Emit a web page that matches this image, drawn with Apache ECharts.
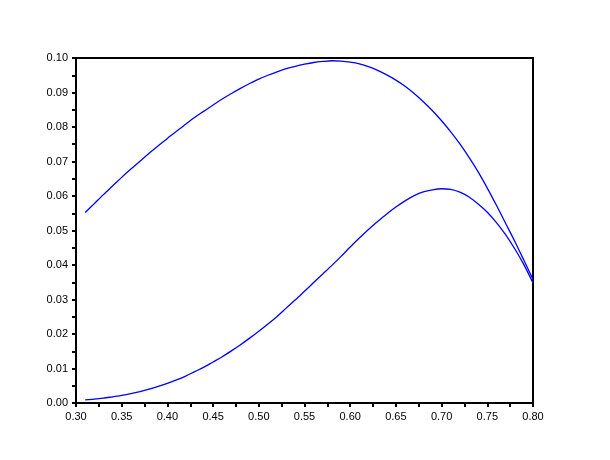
<!DOCTYPE html>
<html>
<head>
<meta charset="utf-8">
<script src="https://cdn.jsdelivr.net/npm/echarts@6/dist/echarts.min.js"></script>
<style>
  html, body { margin: 0; padding: 0; background: #fff; }
  #container { width: 610px; height: 460px; }
</style>
</head>
<body>
<div id="container"></div>
<script>
  var dom = document.getElementById("container");
  var myChart = echarts.init(dom);

  // x positions where both curves were read
  var xs = [0.31, 0.32, 0.33, 0.34, 0.35, 0.36, 0.37, 0.38, 0.39, 0.40,
            0.41, 0.42, 0.43, 0.44, 0.45, 0.46, 0.47, 0.48, 0.49, 0.50,
            0.51, 0.52, 0.53, 0.54, 0.55, 0.56, 0.57, 0.58, 0.59, 0.60,
            0.61, 0.62, 0.63, 0.64, 0.65, 0.66, 0.67, 0.68, 0.69, 0.70,
            0.71, 0.72, 0.73, 0.74, 0.75, 0.76, 0.77, 0.78, 0.79, 0.80];

  var yUpper = [0.0552, 0.0578, 0.0604, 0.0629, 0.0654, 0.0678, 0.0701, 0.0724, 0.0746, 0.0767,
                0.0788, 0.0808, 0.0828, 0.0846, 0.0864, 0.0881, 0.0897, 0.0912, 0.0926, 0.0939,
                0.0950, 0.0960, 0.0969, 0.0976, 0.0982, 0.0987, 0.0990, 0.0992, 0.0991, 0.0988,
                0.0983, 0.0975, 0.0964, 0.0951, 0.0936, 0.0918, 0.0897, 0.0873, 0.0847, 0.0818,
                0.0786, 0.0751, 0.0712, 0.0670, 0.0623, 0.0573, 0.0521, 0.0469, 0.0414, 0.0358];

  var yLower = [0.0009, 0.0011, 0.0014, 0.0018, 0.0022, 0.0027, 0.0033, 0.0040, 0.0048, 0.0057,
                0.0067, 0.0078, 0.0091, 0.0104, 0.0119, 0.0134, 0.0151, 0.0169, 0.0188, 0.0208,
                0.0229, 0.0251, 0.0275, 0.0299, 0.0324, 0.0349, 0.0374, 0.0399, 0.0425, 0.0452,
                0.0478, 0.0503, 0.0526, 0.0548, 0.0568, 0.0586, 0.0601, 0.0612, 0.0618, 0.0621,
                0.0619, 0.0611, 0.0597, 0.0577, 0.0553, 0.0523, 0.0488, 0.0447, 0.0401, 0.0348];

  function pairs(x, y) {
    return x.map(function (v, i) { return [v, y[i]]; });
  }

  var labelStyle = {
    color: '#000',
    fontFamily: 'Liberation Sans',
    fontSize: 11,
    margin: 8,
    formatter: function (v) { return v.toFixed(2); }
  };

  var option = {
    animation: false,
    grid: {
      left: 76, right: 77, top: 58, bottom: 57,
      show: true,
      borderColor: '#000',
      borderWidth: 2
    },
    xAxis: {
      type: 'value',
      min: 0.3, max: 0.8, interval: 0.05,
      axisLine: { show: true, onZero: false, lineStyle: { color: '#000', width: 2 } },
      axisTick: { show: true, length: 4, lineStyle: { color: '#000', width: 2 } },
      minorTick: { show: true, splitNumber: 2, length: 4, lineStyle: { color: '#000', width: 2 } },
      splitLine: { show: false },
      axisLabel: labelStyle
    },
    yAxis: {
      type: 'value',
      min: 0, max: 0.1, interval: 0.01,
      axisLine: { show: true, lineStyle: { color: '#000', width: 2 } },
      axisTick: { show: true, length: 4, lineStyle: { color: '#000', width: 2 } },
      minorTick: { show: true, splitNumber: 2, length: 4, lineStyle: { color: '#000', width: 2 } },
      splitLine: { show: false },
      axisLabel: labelStyle
    },
    series: [
      {
        type: 'line',
        data: pairs(xs, yUpper),
        smooth: 0.3,
        showSymbol: false,
        lineStyle: { color: '#0000ff', width: 1.3 }
      },
      {
        type: 'line',
        data: pairs(xs, yLower),
        smooth: 0.3,
        showSymbol: false,
        lineStyle: { color: '#0000ff', width: 1.3 }
      }
    ]
  };

  myChart.setOption(option, true);
</script>
</body>
</html>
